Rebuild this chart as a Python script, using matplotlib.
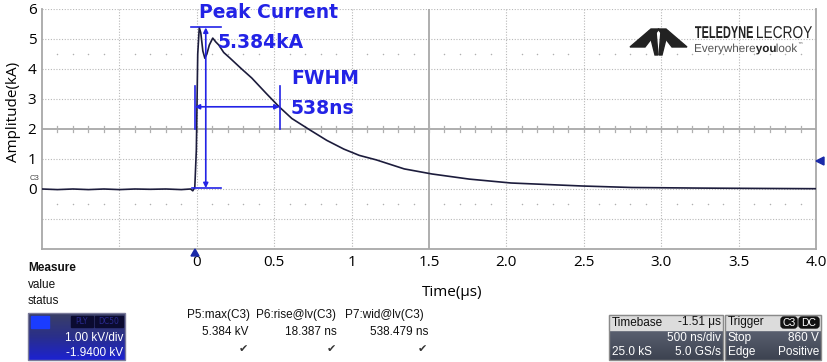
import numpy as np
import matplotlib
matplotlib.use("Agg")
import matplotlib.pyplot as plt
from matplotlib.patches import Rectangle, Polygon, FancyBboxPatch, PathPatch
from matplotlib.textpath import TextPath
from matplotlib.font_manager import FontProperties
from matplotlib.transforms import Affine2D
from matplotlib.colors import LinearSegmentedColormap

# ---------------- data ----------------
time_us = [-1.0, -0.9, -0.8, -0.7, -0.6, -0.5, -0.4, -0.3, -0.2, -0.1, -0.04,
           -0.026, -0.013, -0.003, 0.006, 0.016, 0.026, 0.039, 0.052, 0.065,
           0.081, 0.103, 0.123, 0.142, 0.174, 0.213, 0.29, 0.355, 0.446, 0.53,
           0.614, 0.73, 0.84, 0.95, 1.05, 1.16, 1.34, 1.52, 1.76, 2.03, 2.49,
           2.81, 3.26, 3.6, 4.0]
current_kA = [0.0, -0.02, 0.0, -0.02, 0.0, -0.02, 0.0, -0.01, 0.0, -0.02, 0.0,
              -0.06, 0.05, 1.3, 4.5, 5.384, 5.2, 4.6, 4.36, 4.5,
              4.8, 5.03, 4.9, 4.8, 4.55, 4.37, 4.0, 3.7, 3.2, 2.75,
              2.35, 1.97, 1.62, 1.33, 1.12, 0.97, 0.67, 0.5, 0.33, 0.2, 0.1,
              0.05, 0.03, 0.02, 0.01]
x_ticks = [0, 0.5, 1.0, 1.5, 2.0, 2.5, 3.0, 3.5, 4.0]
x_ticklabels = ["0", "0.5", "1", "1.5", "2.0", "2.5", "3.0", "3.5", "4.0"]
y_ticks = [0, 1, 2, 3, 4, 5, 6]
peak_kA = 5.384
peak_t = 0.058
fwhm_t0, fwhm_t1 = -0.013, 0.535
half_kA = 2.74

meas_names = ["P5:max(C3)", "P6:rise@lv(C3)", "P7:wid@lv(C3)"]
meas_values = ["5.384 kV", "18.387 ns", "538.479 ns"]

BLUE = "#2323e6"
GRIDC = "#b8b8b8"
W, H = 827, 362

fig = plt.figure(figsize=(W / 100, H / 100), dpi=100)
fig.patch.set_facecolor("white")

def fx(px):
    return px / W

def fy(py):
    return 1 - py / H

ax = fig.add_axes([fx(42), fy(249), (816 - 42) / W, (249 - 9) / H])
ax.set_xlim(-1, 4)
ax.set_ylim(-2, 6)

# grid
for gx in np.arange(-0.5, 4.0, 0.5):
    if abs(gx - 1.5) > 1e-6:
        ax.axvline(gx, color=GRIDC, lw=0.8, ls=(0, (1, 1.5)), zorder=1)
for gy in [-1, 0, 1, 3, 4, 5, 6]:
    ax.axhline(gy, color=GRIDC, lw=0.8, ls=(0, (1, 1.5)), zorder=1)
ax.axhline(2, color="#a8a8a8", lw=1.3, zorder=1)
ax.axvline(1.5, color="#a8a8a8", lw=1.3, zorder=1)
for tx in np.arange(-0.9, 4.0, 0.1):
    ax.plot([tx, tx], [1.9, 2.1], color="#b0b0b0", lw=0.9, zorder=1)
dotx = [v for v in np.arange(-0.9, 4.0, 0.1) if abs(v / 0.5 - round(v / 0.5)) > 1e-3]
ax.scatter(dotx, [4.5] * len(dotx), s=1.2, color="#b0b0b0", zorder=1, linewidths=0)
ax.scatter(dotx, [-0.5] * len(dotx), s=1.2, color="#b0b0b0", zorder=1, linewidths=0)

for s in ["left", "bottom", "right"]:
    ax.spines[s].set_color("#a8a8a8")
    ax.spines[s].set_linewidth(1.3)
ax.spines["top"].set_visible(False)

ax.set_xticks(x_ticks)
ax.set_xticklabels(x_ticklabels)
ax.set_yticks(y_ticks)
ax.tick_params(length=0, labelsize=11, pad=4)
for lab in ax.get_xticklabels() + ax.get_yticklabels():
    lab.set_fontfamily("Open Sans")
ax.tick_params(axis="x", pad=4)

# waveform
ax.plot(time_us, current_kA, color="#1c1c3c", lw=1.2, zorder=3)

# annotations (blue)
ax.plot([-0.04, 0.155], [peak_kA, peak_kA], color=BLUE, lw=1.2, zorder=4)
ax.plot([-0.03, 0.155], [0.03, 0.03], color=BLUE, lw=1.2, zorder=4)
ax.annotate("", xy=(peak_t, peak_kA), xytext=(peak_t, 0.03),
            arrowprops=dict(arrowstyle="<|-|>", color=BLUE, lw=1.2,
                            mutation_scale=7, shrinkA=0, shrinkB=0), zorder=4)
ax.plot([fwhm_t0, fwhm_t0], [2.0, 3.43], color=BLUE, lw=1.2, zorder=4)
ax.plot([fwhm_t1, fwhm_t1], [2.0, 3.43], color=BLUE, lw=1.2, zorder=4)
ax.annotate("", xy=(fwhm_t0, half_kA), xytext=(fwhm_t1, half_kA),
            arrowprops=dict(arrowstyle="<|-|>", color=BLUE, lw=1.2,
                            mutation_scale=7, shrinkA=0, shrinkB=0), zorder=4)

afont = dict(color=BLUE, fontsize=13.5, fontweight="bold", family="DejaVu Sans")
fig.text(fx(199), fy(17.5), "Peak Current", ha="left", va="baseline", **afont)
fig.text(fx(218), fy(47.5), "5.384kA", ha="left", va="baseline", **afont)
fig.text(fx(291), fy(83.5), "FWHM", ha="left", va="baseline", **afont)
fig.text(fx(291), fy(113.5), "538ns", ha="left", va="baseline", **afont)

fig.text(fx(14), fy(112), "Amplitude(kA)", rotation=90, ha="center", va="center",
         fontsize=11, family="Open Sans")
fig.text(fx(452), fy(292), "Time(\u03bcs)", ha="center", va="center",
         fontsize=11, family="Open Sans")

# ---------------- overlay decorations (pixel coords) ----------------
oax = fig.add_axes([0, 0, 1, 1], zorder=5)
oax.set_xlim(0, W)
oax.set_ylim(H, 0)
oax.axis("off")
oax.patch.set_alpha(0)

def path_text(s, x0, x1, baseline, cap_h, weight="normal", color="#222222"):
    fp = FontProperties(family="Liberation Sans", weight=weight)
    tp = TextPath((0, 0), s, size=1, prop=fp)
    ext = tp.get_extents()
    sy = cap_h / 0.729
    sx = sy if x1 is None else (x1 - x0) / ext.width
    tr = Affine2D().translate(-ext.x0, 0).scale(sx, -sy).translate(x0, baseline)
    oax.add_patch(PathPatch(tr.transform_path(tp), color=color, lw=0, zorder=3))
    return x0 + ext.width * sx

oax.text(34, 178, "C3", fontsize=5.5, color="#444444", ha="center", va="center",
         family="Liberation Sans")
oax.add_patch(Polygon([[816, 161], [824, 157], [824, 165]], closed=True, color="#1a2aa8"))
oax.add_patch(Polygon([[195, 249], [191, 256], [199, 256]], closed=True, color="#1a2aa8"))

# logo
logo = "#222222"
oax.add_patch(Polygon([[630, 47], [651, 29], [659, 29], [645, 47]], closed=True, color=logo))
oax.add_patch(Polygon([[687, 47], [666, 29], [658, 29], [672, 47]], closed=True, color=logo))
oax.add_patch(Polygon([[649, 31], [656, 31], [658, 55], [655, 55]], closed=True, color=logo))
oax.add_patch(Polygon([[668, 31], [661, 31], [659, 55], [662, 55]], closed=True, color=logo))
path_text("TELEDYNE", 695, 753, 38, 12.5, weight="bold")
path_text("LECROY", 757, 812, 38, 12.5)
xe = path_text("Everywhere", 695, None, 52, 8.5, color="#555555")
xe = path_text("you", xe + 0.8, None, 52, 8.5, weight="bold")
xe = path_text("look", xe + 0.8, None, 52, 8.5, color="#555555")
oax.text(xe + 0.5, 46, "\u2122", fontsize=4, color="#555555", ha="left", va="center")

# Measure block
mf = dict(fontsize=8.5, family="Liberation Sans", color="#111111")
oax.text(28, 268, "Measure", fontweight="bold", ha="left", va="center", **mf)
oax.text(28, 285, "value", ha="left", va="center", **mf)
oax.text(28, 301, "status", ha="left", va="center", **mf)

colx = [218, 296, 384]
valx = [249, 337, 428]
for name, val, cx, vx in zip(meas_names, meas_values, colx, valx):
    oax.text(cx, 315, name, ha="center", va="center", **mf)
    oax.text(vx, 332, val, ha="right", va="center", **mf)
    oax.text(vx - 6, 349, "\u2714", ha="center", va="center", fontsize=8,
             color="#333333", family="DejaVu Sans")

grad = np.linspace(0, 1, 50)[:, None] * np.ones((1, 50))
cm_blue = LinearSegmentedColormap.from_list("b", ["#3a3f66", "#2a2f8a", "#1c22d0"])
oax.imshow(grad, extent=(28, 125, 360, 313), cmap=cm_blue, aspect="auto", zorder=1)
oax.add_patch(Rectangle((28, 313), 97, 47, fill=False, ec="#7a7a9a", lw=1, zorder=2))
oax.add_patch(Rectangle((31, 316), 18, 12, color="#1a3cff", zorder=2))
oax.add_patch(Rectangle((71, 316), 22, 11, color="#0b0b30", zorder=2))
oax.add_patch(Rectangle((95, 316), 28, 11, color="#0b0b30", zorder=2))
oax.text(82, 321.5, "PLY", fontsize=5.5, color="#2a2a90", ha="center", va="center", zorder=3)
oax.text(109, 321.5, "DC50", fontsize=5.5, color="#2a2a90", ha="center", va="center", zorder=3)
wf = dict(fontsize=8.5, family="Liberation Sans", color="white", zorder=3)
oax.text(123, 338, "1.00 kV/div", ha="right", va="center", **wf)
oax.text(123, 353, "-1.9400 kV", ha="right", va="center", **wf)

cm_gray = LinearSegmentedColormap.from_list("g", ["#5a6070", "#3c4250"])
oax.imshow(grad, extent=(609, 723, 360, 330), cmap=cm_gray, aspect="auto", zorder=1)
oax.add_patch(Rectangle((609, 315), 114, 15, color="#dcdcdc", zorder=2))
oax.add_patch(Rectangle((609, 315), 114, 45, fill=False, ec="#8a8a8a", lw=1, zorder=2))
oax.text(612, 322.5, "Timebase", ha="left", va="center", fontsize=8.5,
         family="Liberation Sans", color="#111111", zorder=3)
oax.text(721, 322.5, "-1.51 \u03bcs", ha="right", va="center", fontsize=8.5,
         family="Liberation Sans", color="#111111", zorder=3)
oax.text(721, 338, "500 ns/div", ha="right", va="center", **wf)
oax.text(612, 352, "25.0 kS", ha="left", va="center", **wf)
oax.text(721, 352, "5.0 GS/s", ha="right", va="center", **wf)

oax.imshow(grad, extent=(725, 821, 360, 330), cmap=cm_gray, aspect="auto", zorder=1)
oax.add_patch(Rectangle((725, 315), 96, 15, color="#dcdcdc", zorder=2))
oax.add_patch(Rectangle((725, 315), 96, 45, fill=False, ec="#8a8a8a", lw=1, zorder=2))
oax.text(728, 322.5, "Trigger", ha="left", va="center", fontsize=8.5,
         family="Liberation Sans", color="#111111", zorder=3)
oax.add_patch(FancyBboxPatch((781, 317), 16, 11, boxstyle="round,pad=0,rounding_size=3",
                             color="#111111", zorder=3))
oax.add_patch(FancyBboxPatch((799, 317), 20, 11, boxstyle="round,pad=0,rounding_size=3",
                             color="#111111", zorder=3))
oax.text(789, 322.5, "C3", ha="center", va="center", fontsize=7.5, color="white",
         family="Liberation Sans", zorder=4)
oax.text(809, 322.5, "DC", ha="center", va="center", fontsize=7.5, color="white",
         family="Liberation Sans", zorder=4)
oax.text(728, 338, "Stop", ha="left", va="center", **wf)
oax.text(819, 338, "860 V", ha="right", va="center", **wf)
oax.text(728, 352, "Edge", ha="left", va="center", **wf)
oax.text(819, 352, "Positive", ha="right", va="center", **wf)

oax.set_xlim(0, W)
oax.set_ylim(H, 0)

fig.savefig("out.png", dpi=100, facecolor="white")
